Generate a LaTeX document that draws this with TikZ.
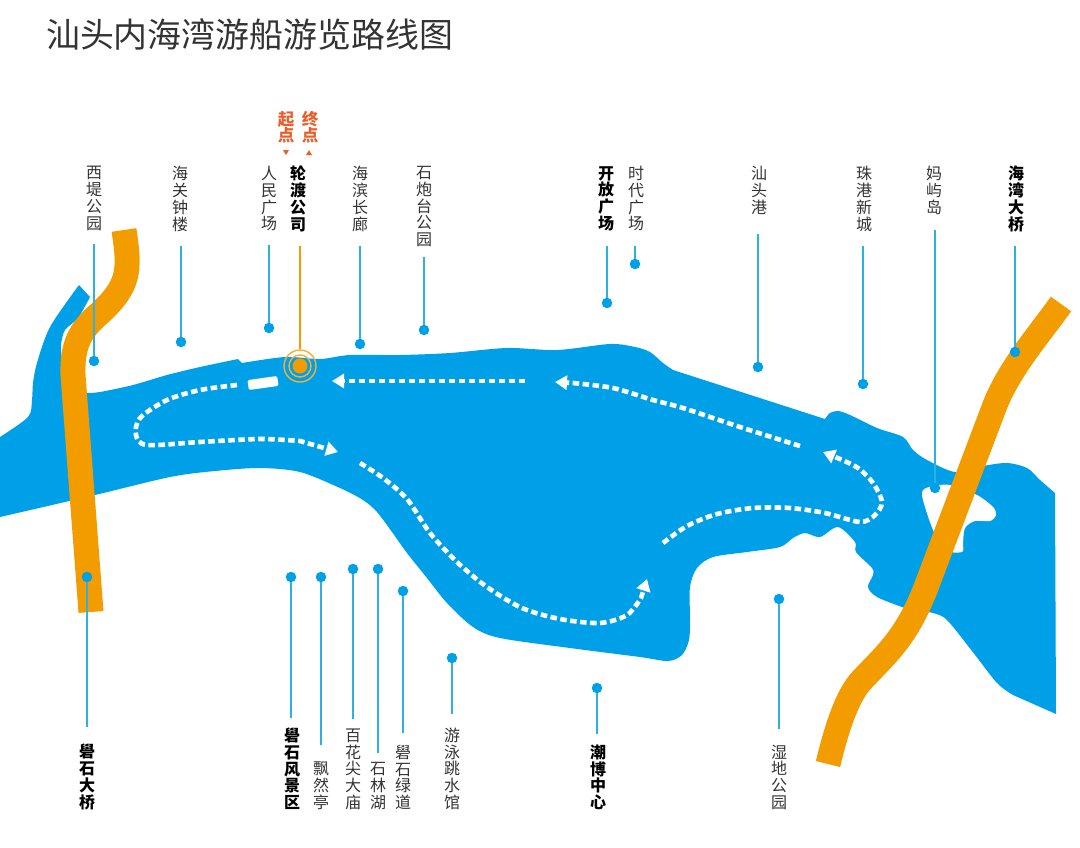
\documentclass[tikz,border=0pt]{standalone}
\usepackage{fontspec}
\setmainfont{Noto Sans CJK SC}
\usetikzlibrary{arrows.meta}
\definecolor{water}{HTML}{00A0E9}
\definecolor{bridge}{HTML}{F39C00}
\definecolor{leader}{HTML}{2FB0E0}
\definecolor{startend}{HTML}{E85F2B}
\newcommand{\labelfont}{\fontsize{16}{16.8}\selectfont}
\tikzset{
    plainlabel/.style={inner sep=0pt, align=center, text=black!80, font=\labelfont},
    stronglabel/.style={inner sep=0pt, align=center, text=black, font=\labelfont\bfseries},
    dot/.style={circle, inner sep=0pt, minimum size=10.5pt, fill=water},
    stem/.style={draw=leader, line width=1.5pt},
    span/.style={draw=bridge, line width=25pt},
    route/.style={draw=white, line width=4.6pt, dash pattern=on 6.5pt off 3.5pt, -{Triangle[length=12pt, width=14pt, fill=white]}},
    coast/.style={smooth, tension=0.5},
}

\begin{document}
\begin{tikzpicture}[x=1pt, y=-1pt]
        \useasboundingbox (0, 0) rectangle (1080, 847);

        \node[anchor=west, inner sep=0pt, text=black!80, font=\fontsize{33.9}{36}\selectfont] (title) at (46, 35) {汕头内海湾游船游览路线图};

        % water
        \fill[water] plot[coast] coordinates {(0, 437) (28, 417) (32, 400) (33, 383) (37, 363) (50, 327) (79, 285)}
            -- (90, 297)
            -- plot[coast] coordinates {(90, 297) (78, 318) (65, 330) (61, 345) (62, 360)}
            -- (87, 393)
            -- plot[coast] coordinates {(87, 393) (100, 392) (133, 385) (167, 375) (200, 367) (238, 359)}
            -- (242, 363)
            -- plot[coast] coordinates {(242, 363) (285, 357) (320, 359) (350, 355) (400, 355) (450, 353) (507, 348) (557, 350) (610, 344) (635, 347) (650, 352) (663, 363) (673, 370)}
            -- (825, 419)
            -- plot[coast] coordinates {(825, 419) (830, 413) (838, 411) (850, 415) (877, 428) (903, 437) (913, 450) (927, 460) (955, 472) (983, 466) (1007, 463) (1027, 468) (1040, 480) (1055, 493)}
            -- (1056, 714)
            -- (1013, 695)
            -- plot[coast] coordinates {(1013, 695) (997, 683) (972, 651) (947, 620) (933, 613) (919, 611) (905, 608) (877, 597) (868, 587) (873, 575) (872, 568) (856, 552) (855, 542) (838, 527) (820, 537) (805, 533) (793, 538) (780, 547) (747, 552) (713, 557) (697, 568) (690, 587) (690, 620) (689, 640) (682, 655) (668, 661) (640, 657) (570, 648) (500, 638) (473, 627) (447, 603) (427, 578) (407, 553) (392, 532) (377, 512) (363, 500) (340, 488) (300, 472) (260, 468) (215, 471) (170, 477) (95, 495) (0, 517)}
            -- cycle;

        % island
        \fill[white] plot[smooth cycle, tension=0.5] coordinates {(922, 495) (929, 487) (950, 485) (977, 495) (993, 507) (996, 515) (990, 521) (975, 521) (965, 528) (963, 543) (962, 552) (945, 550) (933, 530)};

        % route
        \node[fill=white, rounded corners=1.5pt, rotate=8, minimum width=30pt, minimum height=10pt, inner sep=0pt] (ferry) at (263, 383) {};
        \draw[route] plot[coast] coordinates {(237, 385) (200, 390) (167, 400) (140, 418) (136, 435) (147, 445) (200, 442) (260, 439) (300, 441)} -- (338, 452);
        \draw[route] (525, 381) -- (332, 381);
        \draw[route] plot[coast] coordinates {(800, 446) (740, 427) (683, 408) (653, 400) (613, 388) (573, 383)} -- (555, 382);
        \draw[route] plot[coast] coordinates {(360, 463) (383, 478) (407, 499) (430, 533) (457, 562) (487, 587) (522, 608) (560, 619) (600, 623) (627, 615) (641, 598)} -- (647, 579);
        \draw[route] plot[coast] coordinates {(663, 543) (687, 526) (717, 514) (753, 508) (790, 508) (825, 513) (860, 522) (875, 515) (882, 502) (873, 483) (858, 468) (840, 459)} -- (823, 452);

        % bridges
        \draw[span] (124, 230) .. controls (130, 270) and (130, 285) .. (100, 313) .. controls (80, 330) and (72, 345) .. (73, 375) -- (91, 612);
        \draw[span] (1061, 304) .. controls (1035, 340) and (1010, 368) .. (995, 405) -- (925, 590) .. controls (905, 640) and (885, 655) .. (860, 682) .. controls (845, 700) and (835, 735) .. (828, 764);

        % labels at the top
        \foreach \id/\txt/\kind/\lx/\dx/\dy/\gap in {
            a/西\\堤\\公\\园/plainlabel/94/94/361/14,
            b/海\\关\\钟\\楼/plainlabel/180/181/342/14,
            c/人\\民\\广\\场/plainlabel/269/269/328/14,
            d/海\\滨\\长\\廊/plainlabel/360/360/344/14,
            e/石\\炮\\台\\公\\园/plainlabel/424/424/330/10,
            f/开\\放\\广\\场/stronglabel/606/607/303/15,
            g/时\\代\\广\\场/plainlabel/636/635/264/15,
            h/汕\\头\\港/plainlabel/759/758/367/20,
            i/珠\\港\\新\\城/plainlabel/864/863/384/14,
            j/妈\\屿\\岛/plainlabel/934/935/488/15,
            k/海\\湾\\大\\桥/stronglabel/1016/1015/352/14}
        {
            \node[\kind, anchor=north] (lab\id) at (\lx, 166) {\txt};
            \node[dot] (dot\id) at (\dx, \dy) {};
            \draw[stem, shorten <=\gap pt] (lab\id.south -| dot\id) -- (dot\id);
        }

        % labels at the bottom
        \foreach \id/\txt/\kind/\lx/\dx/\dy/\gap in {
            l/礐\\石\\大\\桥/stronglabel/87/87/577/17,
            m/礐\\石\\风\\景\\区/stronglabel/292/291/577/10,
            n/飘\\然\\亭/plainlabel/321/321/577/17,
            o/百\\花\\尖\\大\\庙/plainlabel/353/353/569/10,
            p/石\\林\\湖/plainlabel/378/378/569/9,
            q/礐\\石\\绿\\道/plainlabel/403/403/591/12,
            r/游\\泳\\跳\\水\\馆/plainlabel/452/452/658/14,
            s/潮\\博\\中\\心/stronglabel/598/597/688/10,
            t/湿\\地\\公\\园/plainlabel/779/779/599/16}
        {
            \node[\kind, anchor=south] (lab\id) at (\lx, 810) {\txt};
            \node[dot] (dot\id) at (\dx, \dy) {};
            \draw[stem, shorten <=\gap pt] (lab\id.north -| dot\id) -- (dot\id);
        }

        % ferry company
        \node[stronglabel, anchor=north] (labferry) at (298, 166) {轮\\渡\\公\\司};
        \node[circle, inner sep=0pt, minimum size=15pt, fill=bridge] (pier) at (300, 366) {};
        \node[circle, inner sep=0pt, minimum size=22pt, draw=bridge!80!white, line width=1.4pt] (ringin) at (pier) {};
        \node[circle, inner sep=0pt, minimum size=32pt, draw=bridge!80!white, line width=1.4pt] (ringout) at (pier) {};
        \draw[draw=bridge, line width=1.5pt, shorten <=14pt] (labferry.south -| pier) -- (ringout);

        \node[inner sep=0pt, align=center, text=startend, font=\fontsize{16.5}{16.5}\selectfont\bfseries] (start) at (286, 127) {起\\点};
        \node[inner sep=0pt, align=center, text=startend, font=\fontsize{16.5}{16.5}\selectfont\bfseries] (finish) at (310, 127) {终\\点};
        \fill[startend] (283, 150) -- (289, 150) -- (286, 155) -- cycle;
        \fill[startend] (306, 155) -- (312, 155) -- (309, 150) -- cycle;
    \end{tikzpicture}
\end{document}
